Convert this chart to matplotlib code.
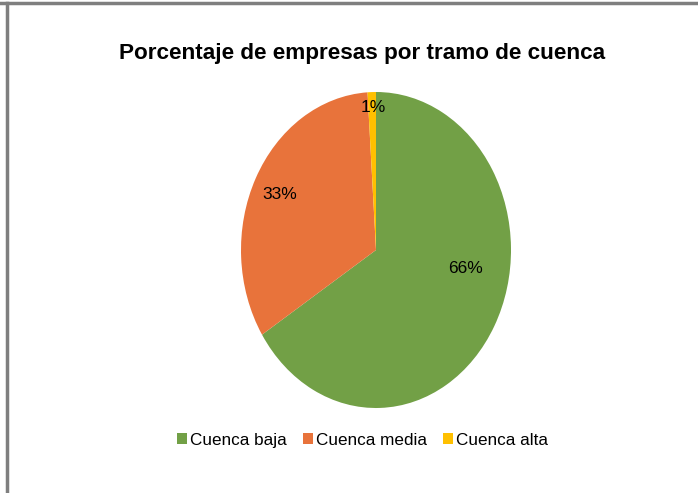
import matplotlib.pyplot as plt
from matplotlib.patches import Patch
from matplotlib.lines import Line2D

plt.rcParams['font.family'] = ['Liberation Sans', 'DejaVu Sans']

# Data
categories = ['Cuenca baja', 'Cuenca media', 'Cuenca alta']
shares = [66, 33, 1]
colors = ['#72A046', '#E8733B', '#FFC000']
# label spots inside the ellipse (axes data units, radius 1)
label_pos = [(0.66, -0.12), (-0.71, 0.35), (-0.02, 0.90)]

fig = plt.figure(figsize=(6.98, 4.93), dpi=100)

# gray frame on top and left, like the spreadsheet screenshot
fig.add_artist(Line2D([0, 1], [0.994, 0.994], color='#7F7F7F', lw=2.5, transform=fig.transFigure))
fig.add_artist(Line2D([0.0095, 0.0095], [0, 0.994], color='#7F7F7F', lw=2.5, transform=fig.transFigure))

fig.text(0.519, 0.891, 'Porcentaje de empresas por tramo de cuenca',
         ha='center', va='center', fontsize=16.2, fontweight='bold')

ax = fig.add_axes([241 / 698, 85 / 493, 270 / 698, 316 / 493])
wedges, texts, autotexts = ax.pie(shares, colors=colors, startangle=90, counterclock=False,
                                  autopct='%1.0f%%', radius=1,
                                  textprops={'fontsize': 12.5, 'color': 'black'},
                                  wedgeprops={'linewidth': 0})
for t, (x, y) in zip(autotexts, label_pos):
    t.set_position((x, y))
ax.set_aspect('auto')
ax.set_xlim(-1, 1)
ax.set_ylim(-1, 1)

handles = [Patch(facecolor=c, edgecolor='none') for c in colors]
fig.legend(handles, categories, loc='center', bbox_to_anchor=(0.519, 0.107), ncol=3,
           frameon=False, fontsize=12.3, handlelength=0.6, handleheight=0.6,
           handletextpad=0.15, columnspacing=0.95)

fig.savefig('out.png', dpi=100)
